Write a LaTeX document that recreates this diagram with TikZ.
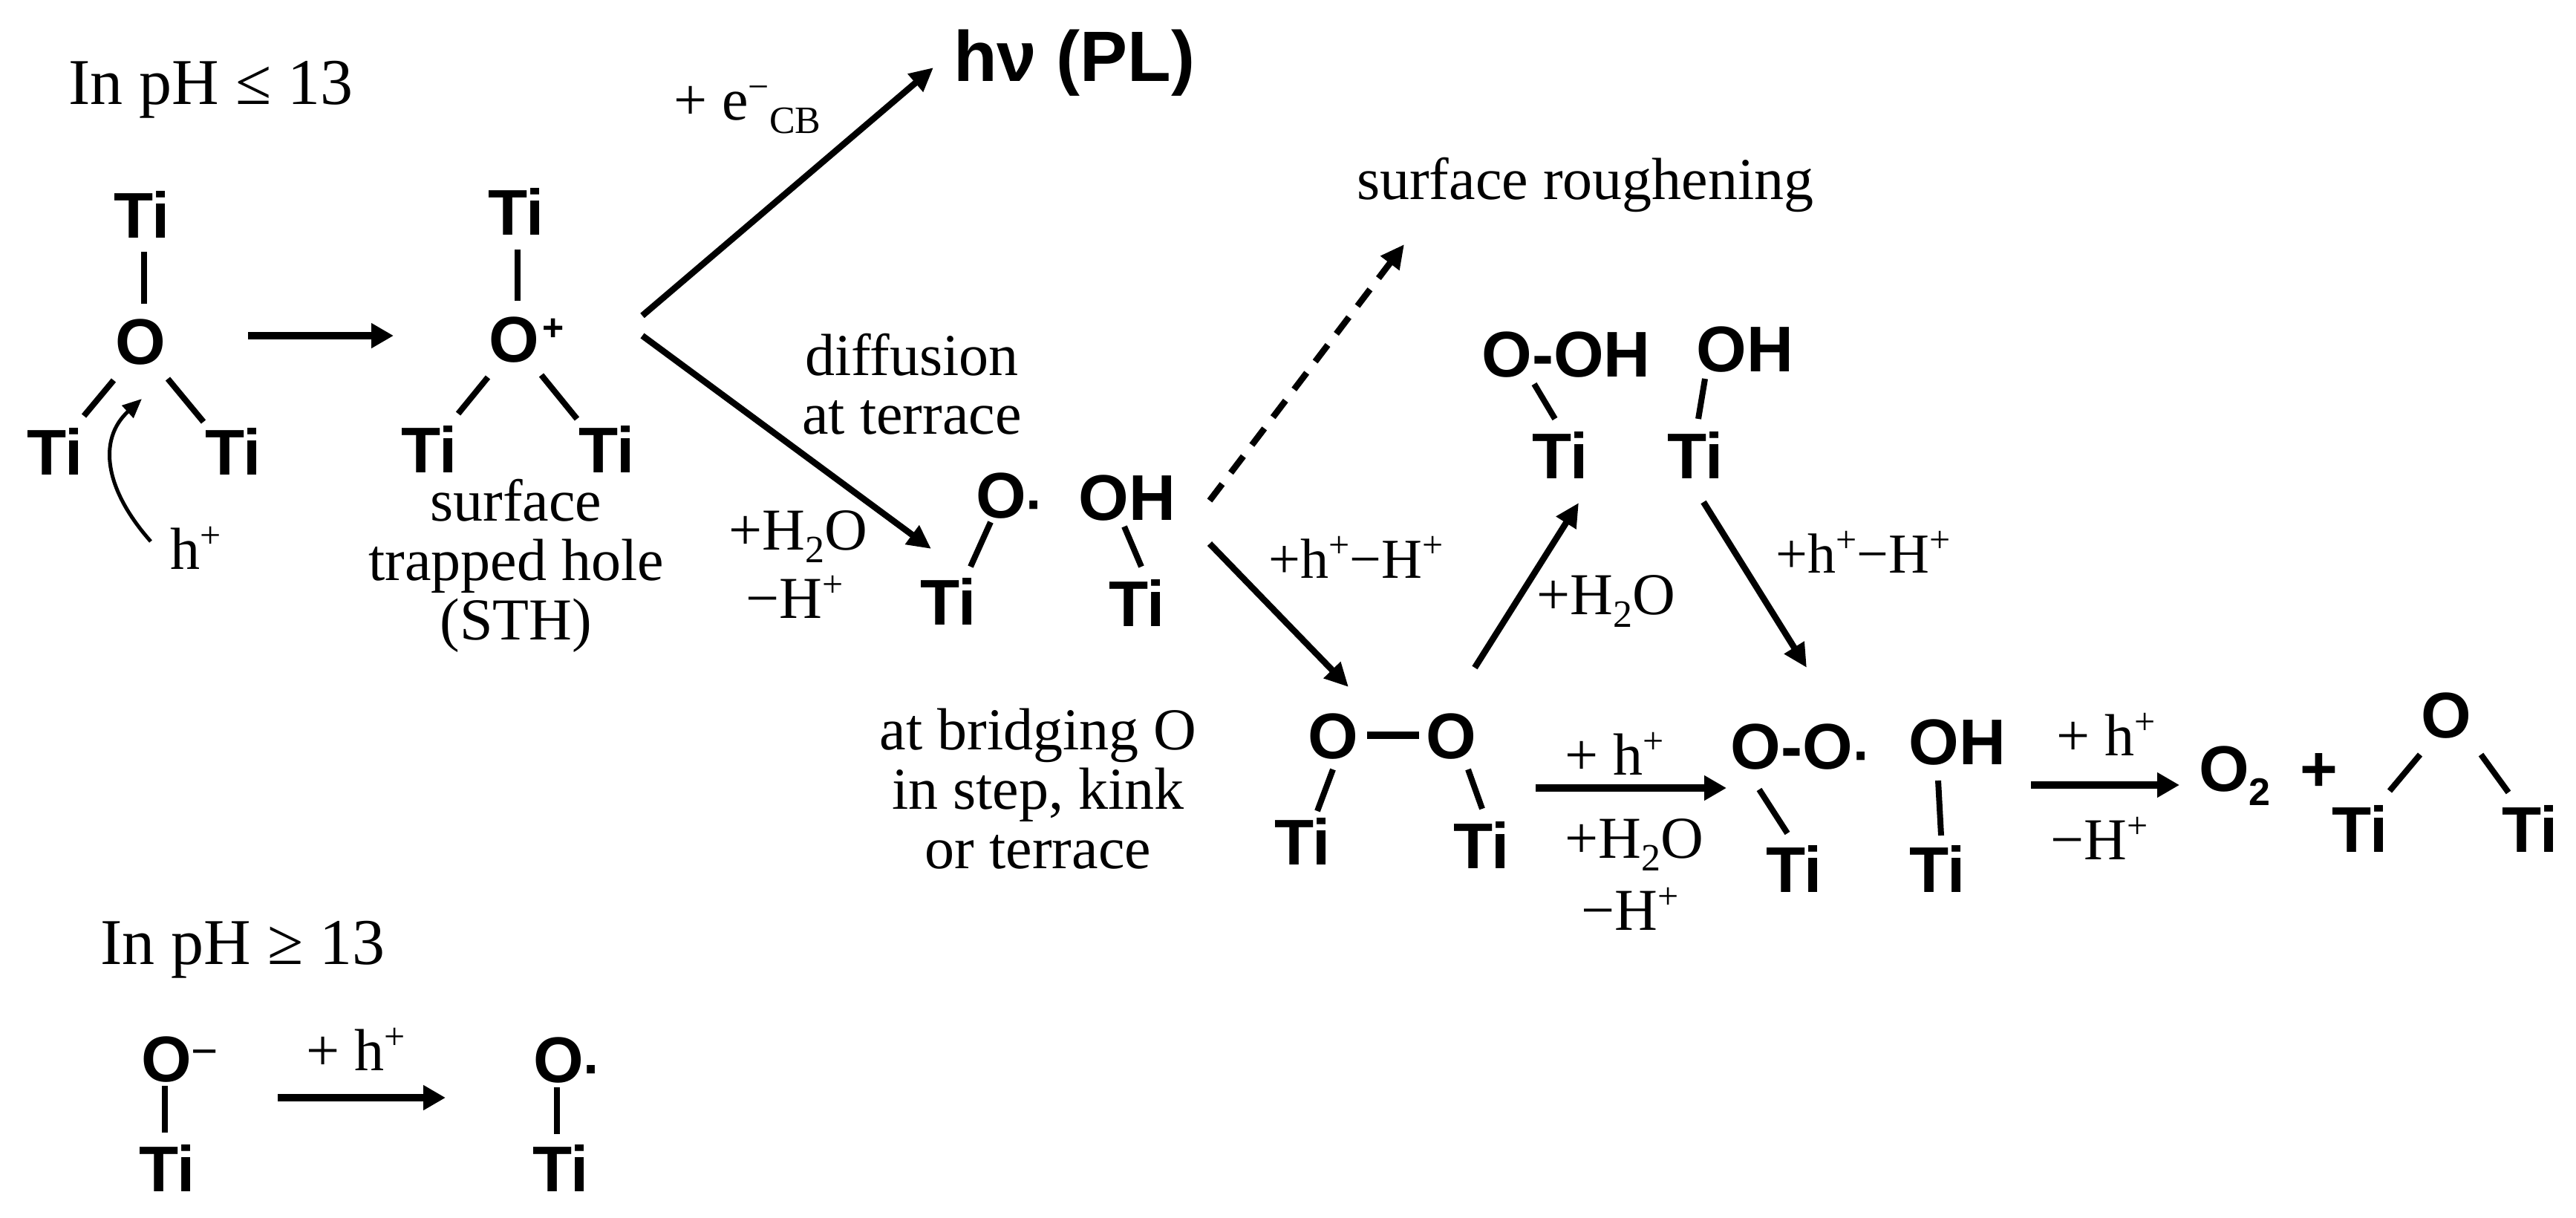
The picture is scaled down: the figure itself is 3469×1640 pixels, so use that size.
\documentclass[tikz,border=0pt]{standalone}
\usepackage{fontspec}
\setmainfont{Liberation Serif}
\newfontfamily\boldsans{Liberation Sans}[BoldFont={Liberation Sans Bold}]
\usetikzlibrary{arrows.meta}
\newcommand\mysup[1]{\raisebox{0.36em}{\fontsize{50}{50}\selectfont #1}}
\newcommand\mysub[1]{\raisebox{-0.22em}{\fontsize{52}{52}\selectfont #1}}
\newcommand\atomplus{\rlap{\kern5pt\raisebox{29pt}{\fontsize{50}{50}\selectfont\bfseries +}}}
\newcommand\atomminus{\rlap{\raisebox{20pt}{\fontsize{62}{62}\selectfont\mdseries −}}}
\newcommand\atomdot{\rlap{\raisebox{-8pt}{\fontsize{76}{76}\selectfont ·}}}
\tikzset{
  atom/.style={font=\boldsans\bfseries\fontsize{87}{87}\selectfont,text height=62pt,text depth=0pt,inner sep=0pt},
  lab/.style={font=\fontsize{80}{80}\selectfont,inner sep=0pt,anchor=base},
  head/.style={font=\fontsize{88}{88}\selectfont,inner sep=0pt,anchor=base west},
  para/.style={font=\fontsize{80}{80}\selectfont,inner sep=0pt,align=center},
  bond/.style={line width=8pt},
  arr/.style={line width=8.5pt,-{Triangle[length=32pt,width=30pt]}},
  harr/.style={line width=9.5pt,-{Triangle[length=30pt,width=32pt]}},
}
\begin{document}
\begin{tikzpicture}[x=1pt,y=-1pt]
\useasboundingbox (0,0) rectangle (3469,1640);
% headers
\node[head] (hle) at (92,141) {In pH ≤ 13};
\node[head] (hge) at (135,1298) {In pH ≥ 13};
% structure 1
\node[atom] (o1) at (189,459) {O};
\node[atom] (t1t) at (191,289) {Ti};
\node[atom] (t1l) at (74,608) {Ti};
\node[atom] (t1r) at (314,608) {Ti};
\draw[bond] ([shift={(5,-50)}]o1.center) -- ([shift={(3,50)}]t1t.center);
\draw[bond] ([shift={(-36,53)}]o1.center) -- ([shift={(39,-48)}]t1l.center);
\draw[bond] ([shift={(37,51)}]o1.center) -- ([shift={(-40,-40)}]t1r.center);
\node[lab] (hp) at (264,766) {h\mysup{+}};
\draw[line width=5pt,-{Triangle[length=26pt,width=22pt]}] ([shift={(-61,-37)}]hp.base) .. controls +(-62,-70) and +(-60,55) .. ([shift={(2,78)}]o1.center);
% structure 2
\node[atom] (o2) at (692,456) {O\atomplus};
\node[atom] (t2t) at (695,285) {Ti};
\node[atom] (t2l) at (578,605) {Ti};
\node[atom] (t2r) at (817,605) {Ti};
\draw[bond] ([shift={(5,-51)}]o2.center) -- ([shift={(2,51)}]t2t.center);
\draw[bond] ([shift={(-35,52)}]o2.center) -- ([shift={(39,-48)}]t2l.center);
\draw[bond] ([shift={(37,49)}]o2.center) -- ([shift={(-40,-41)}]t2r.center);
\draw[harr] ([shift={(145,-7)}]o1.center) -- ([shift={(-162,-4)}]o2.center);
\node[para] (sth) at (695,762) {surface\\trapped hole\\(STH)};
% h nu
\node[font=\boldsans\bfseries\fontsize{96}{96}\selectfont,inner sep=0pt,anchor=base west] (hv) at (1284,110) {hν (PL)};
\draw[arr] ([shift={(173,-31)}]o2.center) -- ([shift={(-27,-19)}]hv.base west);
\node[lab,anchor=base west] (ecb) at (907,162) {+ e\mysup{−}\mysub{CB}};
% structure 3
\node[atom] (o3) at (1348,666) {O\atomdot};
\node[atom] (oh3) at (1518,669) {OH};
\node[atom] (t3l) at (1277,810) {Ti};
\node[atom] (t3r) at (1531,812) {Ti};
\draw[bond] ([shift={(-14,37)}]o3.center) -- ([shift={(30,-47)}]t3l.center);
\draw[bond] ([shift={(-4,40)}]oh3.center) -- ([shift={(6,-49)}]t3r.center);
\draw[arr] ([shift={(173,-4)}]o2.center) -- ([shift={(-94,73)}]o3.center);
\node[lab] (diff) at (1228,505) {diffusion};
\node[lab] (terr) at (1228,584) {at terrace};
\node[lab] (h2oa) at (1075,740) {+H\mysub{2}O};
\node[lab] (hma) at (1070,832) {−H\mysup{+}};
\node[para] (bridge) at (1398,1062) {at bridging O\\in step, kink\\or terrace};
% surface roughening
\node[lab,anchor=base west] (rough) at (1827,269) {surface roughening};
\draw[arr,dash pattern=on 28pt off 19pt] ([shift={(111,5)}]oh3.center) -- ([shift={(64,60)}]rough.base west);
% structure 4
\node[atom] (o4a) at (1795,990) {O};
\node[atom] (o4b) at (1954,990) {O};
\node[atom] (t4l) at (1754,1133) {Ti};
\node[atom] (t4r) at (1995,1138) {Ti};
\draw[line width=10pt] ([shift={(46,0)}]o4a.center) -- ([shift={(-43,0)}]o4b.center);
\draw[bond] ([shift={(0,46)}]o4a.center) -- ([shift={(20,-41)}]t4l.center);
\draw[bond] ([shift={(23,46)}]o4b.center) -- ([shift={(1,-49)}]t4r.center);
\draw[arr] ([shift={(111,63)}]oh3.center) -- ([shift={(21,-65)}]o4a.center);
\node[font=\fontsize{76}{76}\selectfont,inner sep=0pt,anchor=base] (hha) at (1826,778) {+h\mysup{+}−H\mysup{+}};
% structure 5
\node[atom] (o5) at (2109,476) {O-OH};
\node[atom] (oh5) at (2350,469) {OH};
\node[atom] (t5l) at (2101,613) {Ti};
\node[atom] (t5r) at (2283,613) {Ti};
\draw[bond] ([shift={(-43,41)}]o5.center) -- ([shift={(-7,-49)}]t5l.center);
\draw[bond] ([shift={(-54,41)}]oh5.center) -- ([shift={(4,-49)}]t5r.center);
\draw[arr] ([shift={(32,-91)}]o4b.center) -- ([shift={(25,64)}]t5l.center);
\node[lab] (h2ob) at (2163,827) {+H\mysub{2}O};
\node[font=\fontsize{76}{76}\selectfont,inner sep=0pt,anchor=base] (hhb) at (2509,771) {+h\mysup{+}−H\mysup{+}};
% structure 6
\node[atom] (oo6) at (2413,1004) {O-O\atomdot};
\node[atom] (oh6) at (2636,998) {OH};
\node[atom] (t6l) at (2416,1170) {Ti};
\node[atom] (t6r) at (2609,1170) {Ti};
\draw[bond] ([shift={(-44,59)}]oo6.center) -- ([shift={(-9,-48)}]t6l.center);
\draw[bond] ([shift={(-26,53)}]oh6.center) -- ([shift={(5,-45)}]t6r.center);
\draw[arr] ([shift={(11,63)}]t5r.center) -- ([shift={(20,-105)}]oo6.center);
\draw[harr] ([shift={(114,71)}]o4b.center) -- ([shift={(-88,57)}]oo6.center);
\node[lab] (hpa) at (2174,1043) {+ h\mysup{+}};
\node[lab] (h2oc) at (2201,1155) {+H\mysub{2}O};
\node[lab] (hmb) at (2195,1252) {−H\mysup{+}};
% products
\node[font=\boldsans\bfseries\fontsize{87}{87}\selectfont,inner sep=0pt,anchor=base west] (o2m) at (2961,1065) {O\mysub{2}};
\draw[harr] ([shift={(99,59)}]oh6.center) -- ([shift={(-26,-8)}]o2m.base west);
\node[lab] (hpb) at (2836,1017) {+ h\mysup{+}};
\node[lab] (hmc) at (2827,1157) {−H\mysup{+}};
\node[atom] (plus) at (3123,1034) {+};
\node[atom] (o7) at (3294,962) {O};
\node[atom] (t7l) at (3178,1116) {Ti};
\node[atom] (t7r) at (3407,1116) {Ti};
\draw[bond] ([shift={(-35,54)}]o7.center) -- ([shift={(40,-51)}]t7l.center);
\draw[bond] ([shift={(47,54)}]o7.center) -- ([shift={(-29,-49)}]t7r.center);
% bottom row
\node[atom] (oa) at (224,1425) {O\atomminus};
\node[atom] (ta) at (225,1573) {Ti};
\node[atom] (ob) at (752,1426) {O\atomdot};
\node[atom] (tb) at (755,1573) {Ti};
\draw[bond] ([shift={(-2,37)}]oa.center) -- ([shift={(-3,-48)}]ta.center);
\draw[bond] ([shift={(-2,38)}]ob.center) -- ([shift={(-5,-46)}]tb.center);
\draw[harr] ([shift={(150,53)}]oa.center) -- ([shift={(-152,52)}]ob.center);
\node[lab] (hpc) at (479,1441) {+ h\mysup{+}};
\end{tikzpicture}
\end{document}
